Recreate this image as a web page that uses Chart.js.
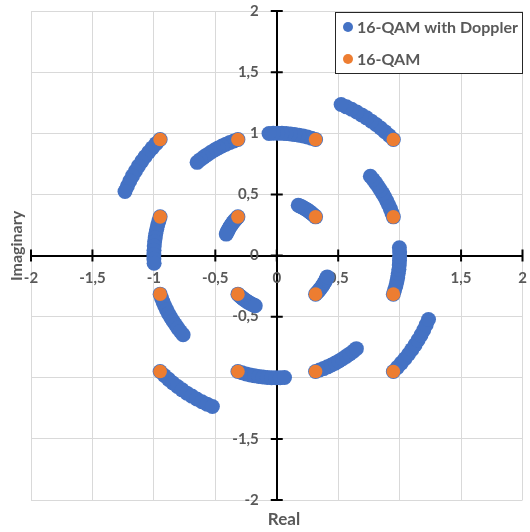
<!DOCTYPE html>
<html><head><meta charset="utf-8">
<script src="https://cdn.jsdelivr.net/npm/chart.js@4/dist/chart.umd.min.js"></script>
<style>html,body{margin:0;padding:0;background:#fff;}</style>
</head><body>
<canvas id="c" width="530" height="532"></canvas>
<script>
const seriesNames = ['16-QAM with Doppler', '16-QAM'];
const tickValues = [-2, -1.5, -1, -0.5, 0, 0.5, 1, 1.5, 2];
const tickLabels = ['-2', '-1,5', '-1', '-0,5', '0', '0,5', '1', '1,5', '2'];
const xTitle = 'Real';
const yTitle = 'Imaginary';

// 16-QAM with Doppler: rotated arcs, quadrant by quadrant
const dopplerQ1 = [
  [0.316,0.316],[0.305,0.327],[0.293,0.337],[0.281,0.347],[0.269,0.357],[0.256,0.366],[0.243,0.375],[0.230,0.383],[0.217,0.391],[0.203,0.398],[0.189,0.405],[0.175,0.411],
  [0.949,0.949],[0.915,0.982],[0.880,1.013],[0.845,1.043],[0.808,1.072],[0.770,1.099],[0.731,1.126],[0.691,1.150],[0.651,1.174],[0.609,1.196],[0.567,1.216],[0.524,1.235],
  [0.949,0.316],[0.937,0.349],[0.925,0.381],[0.911,0.413],[0.896,0.445],[0.880,0.476],[0.863,0.506],[0.844,0.536],[0.825,0.565],[0.805,0.594],[0.784,0.622],[0.762,0.648],
  [0.316,0.949],[0.283,0.959],[0.249,0.969],[0.215,0.977],[0.181,0.984],[0.146,0.989],[0.112,0.994],[0.077,0.997],[0.042,0.999],[0.007,1.000],[-0.028,1.000],[-0.063,0.998]
];
const dopplerQ2 = [
  [-0.316,0.316],[-0.327,0.305],[-0.337,0.293],[-0.347,0.281],[-0.357,0.269],[-0.366,0.256],[-0.375,0.243],[-0.383,0.230],[-0.391,0.217],[-0.398,0.203],[-0.405,0.189],[-0.411,0.175],
  [-0.949,0.949],[-0.982,0.915],[-1.013,0.880],[-1.043,0.845],[-1.072,0.808],[-1.099,0.770],[-1.126,0.731],[-1.150,0.691],[-1.174,0.651],[-1.196,0.609],[-1.216,0.567],[-1.235,0.524],
  [-0.316,0.949],[-0.349,0.937],[-0.381,0.925],[-0.413,0.911],[-0.445,0.896],[-0.476,0.880],[-0.506,0.863],[-0.536,0.844],[-0.565,0.825],[-0.594,0.805],[-0.622,0.784],[-0.648,0.762],
  [-0.949,0.316],[-0.959,0.283],[-0.969,0.249],[-0.977,0.215],[-0.984,0.181],[-0.989,0.146],[-0.994,0.112],[-0.997,0.077],[-0.999,0.042],[-1.000,0.007],[-1.000,-0.028],[-0.998,-0.063]
];
const dopplerQ3 = [
  [-0.316,-0.316],[-0.305,-0.327],[-0.293,-0.337],[-0.281,-0.347],[-0.269,-0.357],[-0.256,-0.366],[-0.243,-0.375],[-0.230,-0.383],[-0.217,-0.391],[-0.203,-0.398],[-0.189,-0.405],[-0.175,-0.411],
  [-0.949,-0.949],[-0.915,-0.982],[-0.880,-1.013],[-0.845,-1.043],[-0.808,-1.072],[-0.770,-1.099],[-0.731,-1.126],[-0.691,-1.150],[-0.651,-1.174],[-0.609,-1.196],[-0.567,-1.216],[-0.524,-1.235],
  [-0.949,-0.316],[-0.937,-0.349],[-0.925,-0.381],[-0.911,-0.413],[-0.896,-0.445],[-0.880,-0.476],[-0.863,-0.506],[-0.844,-0.536],[-0.825,-0.565],[-0.805,-0.594],[-0.784,-0.622],[-0.762,-0.648],
  [-0.316,-0.949],[-0.283,-0.959],[-0.249,-0.969],[-0.215,-0.977],[-0.181,-0.984],[-0.146,-0.989],[-0.112,-0.994],[-0.077,-0.997],[-0.042,-0.999],[-0.007,-1.000],[0.028,-1.000],[0.063,-0.998]
];
const dopplerQ4 = [
  [0.316,-0.316],[0.327,-0.305],[0.337,-0.293],[0.347,-0.281],[0.357,-0.269],[0.366,-0.256],[0.375,-0.243],[0.383,-0.230],[0.391,-0.217],[0.398,-0.203],[0.405,-0.189],[0.411,-0.175],
  [0.949,-0.949],[0.982,-0.915],[1.013,-0.880],[1.043,-0.845],[1.072,-0.808],[1.099,-0.770],[1.126,-0.731],[1.150,-0.691],[1.174,-0.651],[1.196,-0.609],[1.216,-0.567],[1.235,-0.524],
  [0.316,-0.949],[0.349,-0.937],[0.381,-0.925],[0.413,-0.911],[0.445,-0.896],[0.476,-0.880],[0.506,-0.863],[0.536,-0.844],[0.565,-0.825],[0.594,-0.805],[0.622,-0.784],[0.648,-0.762],
  [0.949,-0.316],[0.959,-0.283],[0.969,-0.249],[0.977,-0.215],[0.984,-0.181],[0.989,-0.146],[0.994,-0.112],[0.997,-0.077],[0.999,-0.042],[1.000,-0.007],[1.000,0.028],[0.998,0.063]
];
// plain 16-QAM constellation
const qam16 = [
  [0.316,0.316],[0.949,0.949],[0.949,0.316],[0.316,0.949],
  [-0.316,0.316],[-0.949,0.949],[-0.316,0.949],[-0.949,0.316],
  [-0.316,-0.316],[-0.949,-0.949],[-0.949,-0.316],[-0.316,-0.949],
  [0.316,-0.316],[0.949,-0.949],[0.316,-0.949],[0.949,-0.316]
];

const BLUE = '#4472C4', ORANGE = '#ED7D31', TEXT = '#595959';
const FONT = 'Lato';
const toXY = arr => arr.map(p => ({x: p[0], y: p[1]}));
const dopplerAll = [].concat(dopplerQ1, dopplerQ2, dopplerQ3, dopplerQ4);

const labelFor = v => { const i = tickValues.indexOf(Math.round(v * 10) / 10); return i >= 0 ? tickLabels[i] : ''; };
const zeroW = s => { s.width = 0; };
const zeroH = s => { s.height = 0; };
const tickFont = {family: FONT, size: 15, weight: 'bold'};

const decor = {
  id: 'decor',
  beforeDatasetsDraw(chart) {
    const {ctx, scales: {x, y}} = chart;
    const x0 = x.getPixelForValue(0), y0 = y.getPixelForValue(0);
    ctx.save();
    ctx.strokeStyle = '#000'; ctx.lineWidth = 2;
    ctx.beginPath();
    tickValues.forEach(v => {
      const px = x.getPixelForValue(v);
      ctx.moveTo(px, y0 - 6); ctx.lineTo(px, y0 + 6);
      const py = y.getPixelForValue(v);
      ctx.moveTo(x0 - 6, py); ctx.lineTo(x0 + 6, py);
    });
    ctx.stroke();
    ctx.restore();
  },
  afterDraw(chart) {
    const ctx = chart.ctx;
    ctx.save();
    ctx.fillStyle = TEXT;
    ctx.textAlign = 'center'; ctx.textBaseline = 'middle';
    ctx.font = 'bold 17px ' + FONT;
    ctx.fillText(xTitle, 284, 520);
    ctx.font = 'bold 16px ' + FONT;
    ctx.translate(17, 246); ctx.rotate(-Math.PI / 2);
    ctx.fillText(yTitle, 0, 0);
    ctx.setTransform(1, 0, 0, 1, 0, 0);
    // legend
    ctx.fillStyle = '#fff';
    ctx.fillRect(335.5, 12.5, 187, 61);
    ctx.strokeStyle = '#262626'; ctx.lineWidth = 1;
    ctx.strokeRect(335.5, 12.5, 187, 61);
    const colors = [BLUE, ORANGE];
    const ys = [27, 59];
    ctx.font = 'bold 16px ' + FONT;
    ctx.textAlign = 'left';
    seriesNames.forEach((n, i) => {
      ctx.fillStyle = colors[i];
      ctx.beginPath(); ctx.arc(348, ys[i], 5, 0, Math.PI * 2); ctx.fill();
      ctx.fillStyle = TEXT;
      ctx.fillText(n, 357, ys[i] + 1);
    });
    ctx.restore();
  }
};

new Chart(document.getElementById('c'), {
  type: 'scatter',
  data: {
    datasets: [
      {label: seriesNames[0], data: toXY(dopplerAll), backgroundColor: BLUE, borderColor: BLUE,
       pointRadius: 7.5, pointBorderWidth: 0, order: 1},
      {label: seriesNames[1], data: toXY(qam16), backgroundColor: ORANGE, borderColor: ORANGE,
       pointRadius: 6.8, pointBorderWidth: 0, order: 0}
    ]
  },
  options: {
    responsive: false, animation: false, devicePixelRatio: 1,
    layout: {padding: {left: 31, right: 6, top: 11, bottom: 32}},
    plugins: {legend: {display: false}, title: {display: false}, tooltip: {enabled: false}},
    scales: {
      x: {type: 'linear', axis: 'x', position: {y: 0}, min: -2, max: 2,
          ticks: {stepSize: 0.5, display: false},
          grid: {color: '#d9d9d9', lineWidth: 1, drawTicks: false},
          border: {display: true, color: '#000', width: 2},
          afterFit: zeroH},
      y: {type: 'linear', axis: 'y', position: {x: 0}, min: -2, max: 2,
          ticks: {stepSize: 0.5, display: false},
          grid: {color: '#d9d9d9', lineWidth: 1, drawTicks: false},
          border: {display: true, color: '#000', width: 2},
          afterFit: zeroW},
      xLabels: {type: 'linear', axis: 'x', position: {y: -0.115}, min: -2, max: 2, z: 1,
          ticks: {stepSize: 0.5, padding: 0, color: TEXT, font: tickFont, callback: labelFor, maxRotation: 0, autoSkip: false},
          grid: {display: false, drawTicks: false}, border: {display: false},
          afterFit: zeroH},
      yLabels: {type: 'linear', axis: 'y', position: {x: -0.146}, min: -2, max: 2, z: 1,
          ticks: {stepSize: 0.5, padding: 0, color: TEXT, font: tickFont, callback: labelFor, autoSkip: false},
          grid: {display: false, drawTicks: false}, border: {display: false},
          afterFit: zeroW}
    }
  },
  plugins: [decor]
});
</script>
</body></html>
